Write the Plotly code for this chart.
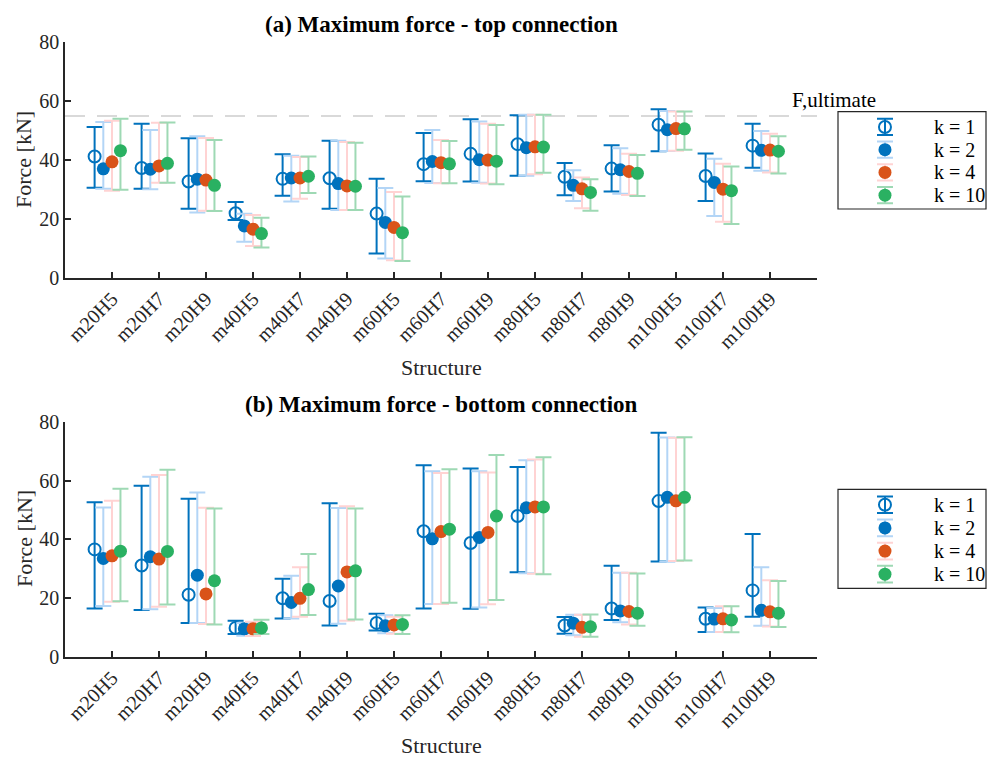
import plotly.graph_objects as go
import numpy as np

# Structures (x categories)
structures = ["m20H5", "m20H7", "m20H9", "m40H5", "m40H7", "m40H9", "m60H5", "m60H7",
              "m60H9", "m80H5", "m80H7", "m80H9", "m100H5", "m100H7", "m100H9"]

k_labels = ["k = 1", "k = 2", "k = 4", "k = 10"]

# (a) top connection: mean, upper bound, lower bound  [kN]
top_k1 = [41.2, 37.3, 32.7, 21.9, 33.6, 33.8, 21.8, 38.6, 42.1, 45.4, 34.3, 37.1, 52.0, 34.6, 44.9]
top_k1_hi = [51.2, 52.3, 47.4, 25.7, 42.0, 46.6, 33.6, 49.2, 53.9, 55.2, 39.0, 45.0, 57.3, 42.2, 52.3]
top_k1_lo = [30.6, 30.2, 23.4, 19.6, 27.9, 23.4, 8.2, 32.8, 32.7, 34.7, 28.0, 29.3, 43.0, 26.1, 37.4]

top_k2 = [37.0, 36.9, 33.5, 17.6, 33.9, 32.0, 18.8, 39.5, 40.1, 44.2, 31.4, 36.7, 50.3, 32.4, 43.3]
top_k2_hi = [52.9, 50.2, 48.1, 21.7, 41.5, 46.6, 30.5, 50.2, 53.1, 55.4, 36.5, 44.0, 56.7, 40.4, 49.9]
top_k2_lo = [30.2, 30.1, 22.2, 12.2, 25.9, 23.0, 6.5, 32.2, 32.3, 34.7, 26.1, 28.5, 43.1, 21.0, 36.4]

top_k4 = [39.4, 38.0, 33.2, 16.5, 33.9, 31.2, 17.1, 39.1, 40.0, 44.5, 30.2, 36.1, 50.7, 30.1, 43.4]
top_k4_hi = [53.4, 52.7, 47.5, 21.3, 41.0, 46.1, 29.1, 46.8, 52.3, 55.4, 34.1, 42.1, 56.5, 38.7, 48.9]
top_k4_lo = [29.6, 32.3, 22.8, 10.8, 26.8, 23.0, 5.9, 32.1, 32.0, 35.2, 23.6, 28.1, 43.2, 19.0, 35.8]

top_k10 = [43.2, 38.9, 31.4, 15.0, 34.5, 31.1, 15.3, 38.7, 39.6, 44.4, 29.0, 35.5, 50.6, 29.6, 43.0]
top_k10_hi = [54.0, 52.8, 46.8, 20.4, 41.2, 45.9, 27.6, 46.5, 51.9, 55.4, 33.5, 41.7, 56.5, 37.8, 48.1]
top_k10_lo = [29.9, 32.3, 22.7, 10.3, 28.8, 23.0, 5.7, 32.1, 31.8, 35.7, 22.8, 27.8, 43.5, 18.3, 35.4]

# (b) bottom connection: mean, upper bound, lower bound  [kN]
bot_k1 = [36.6, 31.1, 21.1, 9.8, 19.9, 19.0, 11.5, 42.8, 38.8, 48.0, 10.6, 16.4, 53.1, 12.9, 22.6]
bot_k1_hi = [52.7, 58.3, 53.9, 12.2, 26.6, 52.4, 14.6, 65.3, 64.2, 64.7, 13.5, 31.0, 76.4, 16.8, 41.9]
bot_k1_lo = [16.4, 15.9, 11.5, 7.7, 13.0, 10.6, 8.9, 16.4, 16.3, 28.8, 7.8, 12.5, 32.5, 8.4, 13.6]

bot_k2 = [33.5, 34.1, 27.8, 9.5, 18.5, 24.1, 10.5, 40.2, 40.7, 50.8, 11.4, 15.6, 54.4, 12.8, 15.8]
bot_k2_hi = [50.9, 61.4, 56.0, 11.5, 27.6, 50.7, 14.1, 63.3, 63.3, 67.0, 14.3, 28.6, 74.8, 16.6, 30.5]
bot_k2_lo = [17.3, 16.2, 11.5, 7.1, 13.0, 11.2, 8.0, 18.0, 16.8, 28.5, 7.3, 11.7, 32.4, 8.4, 10.5]

bot_k4 = [34.4, 33.3, 21.4, 9.5, 19.9, 28.9, 10.8, 42.7, 42.4, 51.1, 10.0, 15.4, 53.2, 12.9, 15.3]
bot_k4_hi = [53.2, 62.0, 50.8, 11.9, 30.5, 51.3, 13.6, 62.7, 62.9, 67.3, 14.3, 28.6, 74.7, 17.2, 26.1]
bot_k4_lo = [18.7, 17.0, 11.1, 7.0, 13.6, 12.2, 7.8, 18.0, 17.9, 28.3, 6.8, 11.0, 32.6, 8.4, 10.3]

bot_k10 = [36.0, 35.9, 25.9, 9.8, 22.9, 29.3, 11.0, 43.5, 48.0, 51.1, 10.2, 14.8, 54.4, 12.5, 14.8]
bot_k10_hi = [57.3, 63.8, 50.6, 12.6, 35.0, 50.6, 14.1, 64.0, 68.8, 68.1, 14.4, 28.4, 74.9, 17.2, 25.8]
bot_k10_lo = [18.9, 17.8, 11.0, 7.7, 14.2, 12.7, 7.7, 18.4, 19.3, 28.1, 6.8, 10.5, 32.8, 8.3, 10.1]

F_ULTIMATE = 55  # kN, reference capacity line on the top-connection panel

# styling
DARK_BLUE = "#0072BD"
ORANGE = "#D95319"
GREEN = "#2AB162"
BAR_COLORS = [DARK_BLUE, "#B3D5F6", "#FFD3D3", "#9ED9B4"]
MARKERS = [
    dict(symbol="circle-open", color=DARK_BLUE, size=12, line=dict(width=2, color=DARK_BLUE)),
    dict(symbol="circle", color=DARK_BLUE, size=13, line=dict(width=0)),
    dict(symbol="circle", color=ORANGE, size=13, line=dict(width=0)),
    dict(symbol="circle", color=GREEN, size=13, line=dict(width=0)),
]
OFFSETS = [-0.37, -0.185, 0.0, 0.18]
SERIF = "Liberation Serif, Times New Roman, serif"
AX_COLOR = "#262626"

W, H = 987, 758
x_dom = [65 / W, 817 / W]

panels = [
    dict(mean=[top_k1, top_k2, top_k4, top_k10],
         hi=[top_k1_hi, top_k2_hi, top_k4_hi, top_k10_hi],
         lo=[top_k1_lo, top_k2_lo, top_k4_lo, top_k10_lo],
         xa="x", ya="y", ydom=[1 - 277.7 / H, 1 - 42.4 / H],
         leg_xa="x3", leg_ya="y3", leg_dom=[1 - 209 / H, 1 - 111.7 / H],
         title="(a) Maximum force - top connection", title_y=24, label_y=160, struct_y=368),
    dict(mean=[bot_k1, bot_k2, bot_k4, bot_k10],
         hi=[bot_k1_hi, bot_k2_hi, bot_k4_hi, bot_k10_hi],
         lo=[bot_k1_lo, bot_k2_lo, bot_k4_lo, bot_k10_lo],
         xa="x2", ya="y2", ydom=[1 - 656.6 / H, 1 - 422.3 / H],
         leg_xa="x4", leg_ya="y4", leg_dom=[1 - 588.3 / H, 1 - 489.3 / H],
         title="(b) Maximum force - bottom connection", title_y=404, label_y=539, struct_y=745),
]

pos = np.arange(1, len(structures) + 1)
leg_rows = np.arange(len(k_labels))

fig = go.Figure()
for p in panels:
    for j in range(4):
        m = np.array(p["mean"][j])
        hi = np.array(p["hi"][j])
        lo = np.array(p["lo"][j])
        fig.add_trace(go.Scatter(
            x=pos + OFFSETS[j], y=m, mode="markers", name=k_labels[j],
            xaxis=p["xa"], yaxis=p["ya"], showlegend=False,
            marker=MARKERS[j],
            error_y=dict(type="data", symmetric=False, array=hi - m, arrayminus=m - lo,
                         color=BAR_COLORS[j], thickness=2, width=8),
        ))
    # legend glyphs: marker with its error bar, one row per k
    for j in range(4):
        fig.add_trace(go.Scatter(
            x=[0], y=[leg_rows[j]], mode="markers", xaxis=p["leg_xa"], yaxis=p["leg_ya"],
            showlegend=False, hoverinfo="skip", marker=MARKERS[j],
            error_y=dict(type="constant", value=0.36, color=BAR_COLORS[j], thickness=2, width=8),
        ))

axis_common = dict(
    showline=True, linecolor=AX_COLOR, linewidth=1.5, mirror=False,
    ticks="inside", ticklen=6, tickwidth=1.5, tickcolor=AX_COLOR,
    showgrid=False, zeroline=False,
    tickfont=dict(family=SERIF, size=20, color=AX_COLOR),
    automargin=False,
)
xaxis_common = dict(axis_common, range=[0, len(structures) + 1], tickvals=pos,
                    ticktext=structures, tickangle=-45, domain=x_dom)
yaxis_common = dict(axis_common, range=[0, 80], tickvals=[0, 20, 40, 60, 80])

# legend box axes (hidden); rows spaced evenly, glyph column left of text
leg_x_dom = [838 / W, 986 / W]
leg_hidden = dict(visible=False, fixedrange=True, showgrid=False, zeroline=False)
leg_xrange = [-1.0, 2.15]
leg_yrange = [3.61, -0.67]

fig.update_layout(
    width=W, height=H, margin=dict(l=0, r=0, t=0, b=0),
    plot_bgcolor="white", paper_bgcolor="white", showlegend=False,
    xaxis=dict(xaxis_common, anchor="y"),
    yaxis=dict(yaxis_common, domain=panels[0]["ydom"], anchor="x"),
    xaxis2=dict(xaxis_common, anchor="y2"),
    yaxis2=dict(yaxis_common, domain=panels[1]["ydom"], anchor="x2"),
    xaxis3=dict(leg_hidden, domain=leg_x_dom, range=leg_xrange, anchor="y3"),
    yaxis3=dict(leg_hidden, domain=panels[0]["leg_dom"], range=leg_yrange, anchor="x3"),
    xaxis4=dict(leg_hidden, domain=leg_x_dom, range=leg_xrange, anchor="y4"),
    yaxis4=dict(leg_hidden, domain=panels[1]["leg_dom"], range=leg_yrange, anchor="x4"),
)

# capacity line
fig.add_shape(type="line", xref="x domain", yref="y", x0=0, x1=1.0,
              y0=F_ULTIMATE, y1=F_ULTIMATE,
              line=dict(color="#D9D9D9", width=2, dash="20px,12px"), layer="below")
fig.add_annotation(text="F,ultimate", xref="paper", yref="y", x=790 / W, xanchor="left",
                   y=F_ULTIMATE, yanchor="bottom", yshift=2, showarrow=False,
                   font=dict(family=SERIF, size=21, color="black"))

for p in panels:
    # legend frame and entries
    fig.add_shape(type="rect", xref=f"{p['leg_xa']} domain", yref=f"{p['leg_ya']} domain",
                  x0=0, x1=1, y0=0, y1=1, line=dict(color="#262626", width=1.2),
                  fillcolor="rgba(0,0,0,0)", layer="above")
    for j, lab in enumerate(k_labels):
        fig.add_annotation(text=lab, xref=p["leg_xa"], yref=p["leg_ya"], x=1.0, y=leg_rows[j],
                           xanchor="left", yanchor="middle", showarrow=False,
                           font=dict(family=SERIF, size=20, color="black"))
    # panel title
    fig.add_annotation(text=f"<b>{p['title']}</b>", xref="paper", yref="paper",
                       x=(x_dom[0] + x_dom[1]) / 2, y=1 - p["title_y"] / H, showarrow=False,
                       xanchor="center", yanchor="middle",
                       font=dict(family=SERIF, size=23, color="black"))
    # axis titles
    fig.add_annotation(text="Force [kN]", xref="paper", yref="paper", x=24 / W,
                       y=1 - p["label_y"] / H, textangle=-90, showarrow=False,
                       xanchor="center", yanchor="middle",
                       font=dict(family=SERIF, size=22, color=AX_COLOR))
    fig.add_annotation(text="Structure", xref="paper", yref="paper",
                       x=(x_dom[0] + x_dom[1]) / 2, y=1 - p["struct_y"] / H, showarrow=False,
                       xanchor="center", yanchor="middle",
                       font=dict(family=SERIF, size=22, color=AX_COLOR))

fig.write_html("out.html")
